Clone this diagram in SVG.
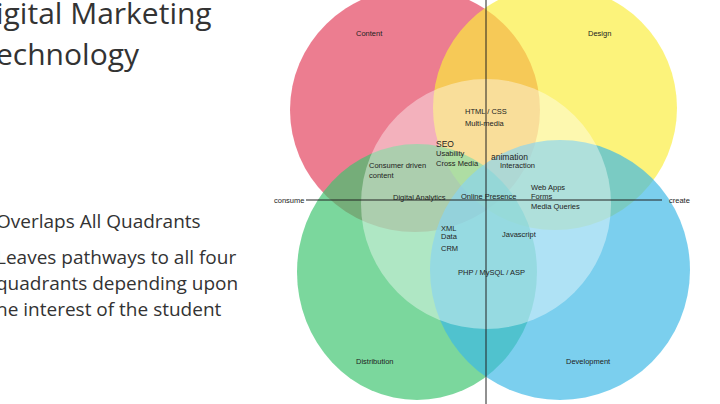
<svg xmlns="http://www.w3.org/2000/svg" width="720" height="404" viewBox="0 0 720 404">
<style>
.t{font-family:"Liberation Sans",Arial,sans-serif;font-size:7.5px;fill:#222}
.h{font-family:"Open Sans","Liberation Sans",sans-serif;fill:#333}
.c{opacity:.68}
</style>
<rect width="720" height="404" fill="#fff"/>
<g id="title" class="h">
<text x="-4" y="24" font-size="30">igital Marketing</text>
<text x="-4" y="65" font-size="30">echnology</text>
<text x="-4" y="228" font-size="19">Overlaps All Quadrants</text>
<text x="-4" y="264" font-size="19">Leaves pathways to all four</text>
<text x="-4" y="290" font-size="19">quadrants depending upon</text>
<text x="-4" y="316" font-size="19">he interest of the student</text>
</g>
<g id="content"><ellipse class="c" cx="415" cy="110" rx="125" ry="122" fill="#e3405c"/></g>
<g id="design"><ellipse class="c" cx="555" cy="108" rx="122" ry="122" fill="#fbee3c"/></g>
<g id="distribution"><ellipse class="c" cx="417" cy="272" rx="120" ry="128" fill="#3cc46e"/></g>
<g id="development"><ellipse class="c" cx="560" cy="270" rx="130" ry="130" fill="#3cb8e6"/></g>
<g id="center"><circle cx="486" cy="204" r="125" fill="#fff" opacity=".4"/></g>
<g id="connectors" stroke="#222" stroke-width="1">
<line x1="486" y1="0" x2="486" y2="404"/>
<line x1="306" y1="200" x2="662" y2="200"/>
</g>
<g id="labels" class="t">
<text x="356" y="36">Content</text>
<text x="588" y="36">Design</text>
<text x="356" y="364">Distribution</text>
<text x="566" y="364">Development</text>
<text x="274" y="203">consume</text>
<text x="669" y="203">create</text>
<text x="465" y="114">HTML / CSS</text>
<text x="465" y="126">Multi-media</text>
<text x="436" y="147" font-size="8.5">SEO</text>
<text x="436" y="156">Usability</text>
<text x="436" y="166">Cross Media</text>
<text x="491" y="160" font-size="8.5">animation</text>
<text x="500" y="168">Interaction</text>
<text x="369" y="168">Consumer driven</text>
<text x="369" y="178">content</text>
<text x="393" y="200">Digital Analytics</text>
<text x="461" y="199">Online Presence</text>
<text x="531" y="190">Web Apps</text>
<text x="531" y="199">Forms</text>
<text x="531" y="209">Media Queries</text>
<text x="441" y="231">XML</text>
<text x="441" y="239">Data</text>
<text x="441" y="251">CRM</text>
<text x="502" y="237">Javascript</text>
<text x="458" y="275">PHP / MySQL / ASP</text>
</g>
</svg>
